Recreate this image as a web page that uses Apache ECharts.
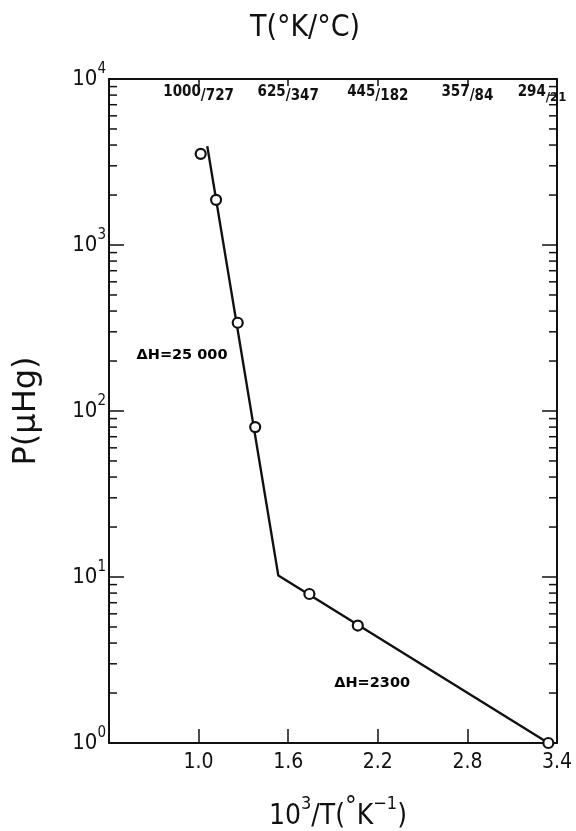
<!DOCTYPE html>
<html>
<head>
<meta charset="utf-8">
<script src="https://cdn.jsdelivr.net/npm/echarts@6/dist/echarts.min.js"></script>
<style>
  html, body { margin: 0; padding: 0; background: #fff; }
  #chart { width: 576px; height: 831px; }
</style>
</head>
<body>
<div id="chart"></div>
<script>
// measured points: 10^3/T (1/K) and vapour pressure (micro Hg)
var invT = [1.014, 1.117, 1.262, 1.379, 1.742, 2.066, 3.342];
var pressure = [3540, 1870, 340, 80, 7.9, 5.1, 1.0];

// hand-drawn two-slope fit line
var fitInvT = [1.058, 1.534, 3.342];
var fitPressure = [3940, 10.2, 1.0];

// axis ticks
var xTicks = [1.0, 1.6, 2.2, 2.8, 3.4];
var topKelvin = ['1000', '625', '445', '357', '294'];
var topCelsius = ['727', '347', '182', '84', '21'];
var decades = [1, 10, 100, 1000];
var minorSteps = [2, 3, 4, 5, 6, 7, 8, 9];

// slope annotations
var noteText = ['ΔH=25 000', 'ΔH=2300'];
var noteInvT = [0.889, 2.162];
var notePressure = [216, 2.28];

var X_MIN = 0.4, X_MAX = 3.4;
var INK = '#111';
var FONT = '"DejaVu Sans Condensed", "DejaVu Sans", sans-serif';

function tickIndex(v) {
  for (var i = 0; i < xTicks.length; i++) {
    if (Math.abs(xTicks[i] - v) < 1e-6) return i;
  }
  return -1;
}

var minorData = [];
decades.forEach(function (d) {
  minorSteps.forEach(function (m) { minorData.push([X_MIN, d * m]); });
});

var chart = echarts.init(document.getElementById('chart'), null, { renderer: 'canvas' });

var axisLine = { show: true, onZero: false, lineStyle: { color: INK, width: 2 } };

chart.setOption({
  backgroundColor: '#fff',
  animation: false,
  grid: { left: 109, right: 19, top: 79, bottom: 88, containLabel: false, outerBoundsMode: 'none' },
  xAxis: [
    {
      type: 'value',
      position: 'bottom',
      min: X_MIN,
      max: X_MAX,
      axisLine: axisLine,
      axisTick: { show: true, inside: true, length: 14, customValues: xTicks, lineStyle: { color: INK, width: 1.5 } },
      axisLabel: {
        customValues: xTicks,
        margin: 9,
        color: INK,
        fontFamily: FONT,
        fontSize: 21,
        formatter: function (v) { return v.toFixed(1); }
      },
      splitLine: { show: false },
      name: '{n|10}{s|3}{n|/T(}{d|°}{n|K}{s|−1}{n|)}',
      nameLocation: 'middle',
      nameGap: 52,
      nameTextStyle: {
        color: INK,
        padding: [0, 0, 0, 10],
        rich: {
          n: { fontFamily: FONT, fontSize: 28, color: INK, lineHeight: 36, verticalAlign: 'bottom' },
          s: { fontFamily: FONT, fontSize: 18, color: INK, lineHeight: 20, verticalAlign: 'top' },
          d: { fontFamily: FONT, fontSize: 26, color: INK, lineHeight: 30, verticalAlign: 'top' }
        }
      }
    },
    {
      type: 'value',
      position: 'top',
      min: X_MIN,
      max: X_MAX,
      axisLine: axisLine,
      axisTick: { show: true, inside: true, length: 7, customValues: xTicks, lineStyle: { color: INK, width: 1.5 } },
      axisLabel: {
        customValues: xTicks,
        inside: true,
        margin: 6,
        color: INK,
        formatter: function (v) {
          var i = tickIndex(v);
          if (i < 0) return '';
          if (i === xTicks.length - 1) return '{k|' + topKelvin[i] + '}{e|/' + topCelsius[i] + '}';
          return '{k|' + topKelvin[i] + '}{c|/' + topCelsius[i] + '}';
        },
        rich: {
          k: { fontFamily: FONT, fontSize: 15, fontWeight: 'bold', color: INK, lineHeight: 19, verticalAlign: 'top' },
          c: { fontFamily: FONT, fontSize: 15, fontWeight: 'bold', color: INK, lineHeight: 15, verticalAlign: 'bottom' },
          e: { fontFamily: FONT, fontSize: 13, fontWeight: 'bold', color: INK, lineHeight: 13, verticalAlign: 'bottom', padding: [0, 30, 0, 0] }
        }
      },
      splitLine: { show: false },
      name: 'T(°K/°C)',
      nameLocation: 'middle',
      nameGap: 36,
      nameTextStyle: { color: INK, fontFamily: FONT, fontSize: 30, padding: [0, 56, 0, 0] }
    }
  ],
  yAxis: [
    {
      type: 'log',
      logBase: 10,
      position: 'left',
      min: 1,
      max: 10000,
      axisLine: axisLine,
      axisTick: { show: true, inside: true, length: 15, lineStyle: { color: INK, width: 1.5 } },
      minorTick: { show: false },
      axisLabel: {
        margin: 3,
        color: INK,
        formatter: function (v) {
          return '{n|10}{e|' + Math.round(Math.log10(v)) + '}';
        },
        rich: {
          n: { fontFamily: FONT, fontSize: 22, color: INK, lineHeight: 34, verticalAlign: 'middle' },
          e: { fontFamily: FONT, fontSize: 15, color: INK, lineHeight: 17, verticalAlign: 'top' }
        }
      },
      splitLine: { show: false },
      name: 'P(μHg)',
      nameLocation: 'middle',
      nameGap: 66,
      nameRotate: 90,
      nameTextStyle: { color: INK, fontFamily: '"DejaVu Sans", sans-serif', fontSize: 32 }
    },
    {
      type: 'log',
      logBase: 10,
      position: 'right',
      min: 1,
      max: 10000,
      axisLine: axisLine,
      axisTick: { show: true, inside: true, length: 15, lineStyle: { color: INK, width: 1.5 } },
      axisLabel: { show: false },
      splitLine: { show: false }
    }
  ],
  series: [
    {
      name: 'minor ticks',
      type: 'custom',
      xAxisIndex: 0,
      yAxisIndex: 0,
      silent: true,
      clip: false,
      encode: { x: 0, y: 1 },
      data: minorData,
      renderItem: function (params, api) {
        var v = api.value(1);
        var l = api.coord([X_MIN, v]);
        var r = api.coord([X_MAX, v]);
        var st = { stroke: INK, lineWidth: 1.5 };
        return {
          type: 'group',
          children: [
            { type: 'line', shape: { x1: l[0], y1: l[1], x2: l[0] + 8, y2: l[1] }, style: st },
            { type: 'line', shape: { x1: r[0], y1: r[1], x2: r[0] - 8, y2: r[1] }, style: st }
          ]
        };
      },
      z: 1
    },
    {
      name: 'fit',
      type: 'line',
      xAxisIndex: 0,
      yAxisIndex: 0,
      data: fitInvT.map(function (x, i) { return [x, fitPressure[i]]; }),
      symbol: 'none',
      lineStyle: { color: INK, width: 2.4, opacity: 1 },
      z: 2
    },
    {
      name: 'measured',
      type: 'scatter',
      xAxisIndex: 0,
      yAxisIndex: 0,
      data: invT.map(function (x, i) { return [x, pressure[i]]; }),
      symbol: 'circle',
      symbolSize: 10,
      itemStyle: { color: '#fff', borderColor: INK, borderWidth: 2.2, opacity: 1 },
      z: 3
    },
    {
      name: 'notes',
      type: 'scatter',
      xAxisIndex: 0,
      yAxisIndex: 0,
      silent: true,
      data: noteInvT.map(function (x, i) { return [x, notePressure[i], noteText[i]]; }),
      symbolSize: 1,
      itemStyle: { color: 'transparent', opacity: 1 },
      label: {
        show: true,
        position: 'inside',
        formatter: function (p) { return p.data[2]; },
        color: '#000',
        opacity: 1,
        fontFamily: '"DejaVu Sans", sans-serif',
        fontWeight: 'bold',
        fontSize: 14.5
      },
      z: 4
    }
  ]
});
</script>
</body>
</html>
